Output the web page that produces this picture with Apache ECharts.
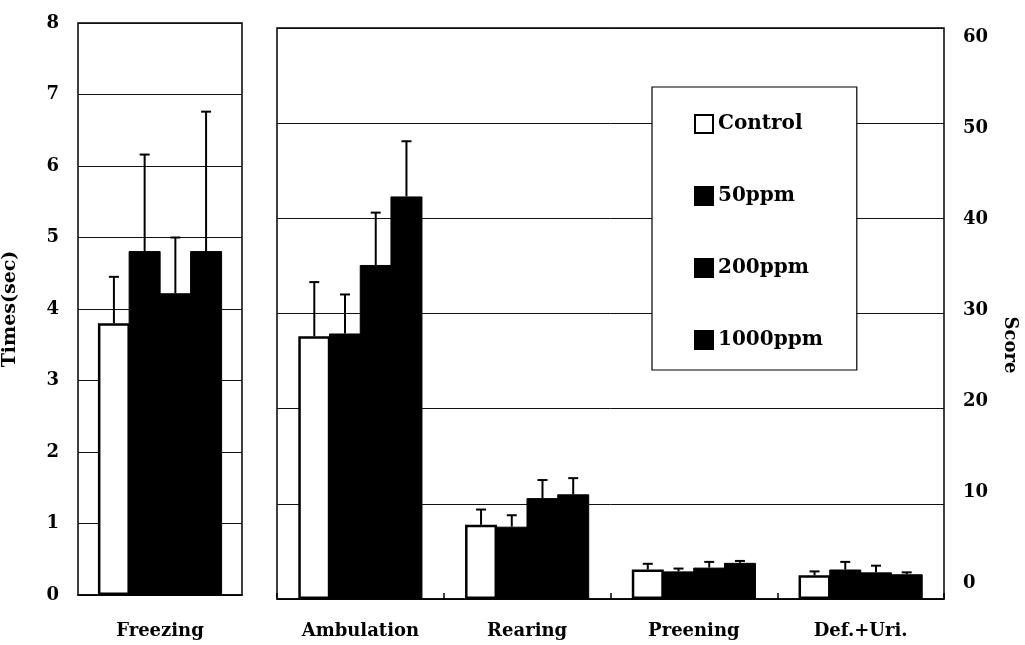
<!DOCTYPE html>
<html>
<head>
<meta charset="utf-8">
<script src="https://cdn.jsdelivr.net/npm/echarts@6/dist/echarts.min.js"></script>
<style>html,body{margin:0;padding:0;background:#fff}#c{width:1025px;height:645px}</style>
</head>
<body>
<div id="c"></div>
<script>
// ---- data ----
var groups = ['Control', '50ppm', '200ppm', '1000ppm'];
var leftCategories = ['Freezing'];
var rightCategories = ['Ambulation', 'Rearing', 'Preening', 'Def.+Uri.'];
var leftTicks = [0, 1, 2, 3, 4, 5, 6, 7, 8];
var rightTicks = [0, 10, 20, 30, 40, 50, 60];

// Freezing (sec): mean and SD per group
var freezingMean = [3.80, 4.81, 4.22, 4.81];
var freezingSD   = [0.65, 1.35, 0.78, 1.95];

// Scores: per group, values for Ambulation, Rearing, Preening, Def.+Uri.
var controlMean = [27.6, 7.8, 3.1, 2.5];
var controlSD   = [5.7, 1.6, 0.6, 0.4];
var ppm50Mean   = [27.9, 7.6, 2.9, 3.1];
var ppm50SD     = [4.1, 1.2, 0.3, 0.8];
var ppm200Mean  = [35.1, 10.6, 3.3, 2.8];
var ppm200SD    = [5.5, 1.9, 0.6, 0.7];
var ppm1000Mean = [42.3, 11.0, 3.8, 2.6];
var ppm1000SD   = [5.8, 1.7, 0.2, 0.2];

var scoreMeans = [controlMean, ppm50Mean, ppm200Mean, ppm1000Mean];
var scoreSDs   = [controlSD, ppm50SD, ppm200SD, ppm1000SD];

// ---- style ----
var FONT = 'DejaVu Serif';
var BW = 32;
var GAP = -0.04;
var STEP = BW * (1 + GAP);
var barStyles = [
  {color: '#ffffff', borderColor: '#000', borderWidth: 2.5},
  {color: '#000000', borderColor: '#000', borderWidth: 1},
  {color: '#000000', borderColor: '#000', borderWidth: 1},
  {color: '#000000', borderColor: '#000', borderWidth: 1}
];
var lbl = {fontFamily: FONT, fontWeight: 'bold', fontSize: 18, color: '#000'};

function errSeries(xi, yi, means, sds, k) {
  return {
    type: 'custom', xAxisIndex: xi, yAxisIndex: yi, z: 5, silent: true,
    data: means.map(function (m, i) { return [i, m, sds[i]]; }),
    renderItem: function (params, api) {
      var c = api.value(0);
      var lo = api.coord([c, api.value(1)]);
      var hi = api.coord([c, api.value(1) + api.value(2)]);
      var x = lo[0] + (k - 1.5) * STEP;
      var h = 5;
      return {type: 'group', children: [
        {type: 'line', shape: {x1: x, y1: lo[1], x2: x, y2: hi[1]}, style: {stroke: '#000', lineWidth: 2}},
        {type: 'line', shape: {x1: x - h, y1: hi[1], x2: x + h, y2: hi[1]}, style: {stroke: '#000', lineWidth: 2}}
      ]};
    }
  };
}

var series = [];
groups.forEach(function (g, k) {
  series.push({type: 'bar', name: g, xAxisIndex: 0, yAxisIndex: 0, barWidth: BW, barGap: (GAP * 100) + '%',
    itemStyle: barStyles[k], data: [freezingMean[k]], z: 3});
});
groups.forEach(function (g, k) {
  series.push({type: 'bar', name: g, xAxisIndex: 1, yAxisIndex: 1, barWidth: BW, barGap: (GAP * 100) + '%',
    itemStyle: barStyles[k], data: scoreMeans[k], z: 3});
});
groups.forEach(function (g, k) {
  series.push(errSeries(0, 0, [freezingMean[k]], [freezingSD[k]], k));
  series.push(errSeries(1, 1, scoreMeans[k], scoreSDs[k], k));
});

var option = {
  animation: false,
  backgroundColor: '#fff',
  grid: [
    {left: 76, top: 23, width: 166, height: 572, show: true, borderColor: '#000', borderWidth: 1.5},
    {left: 277, top: 28, width: 667, height: 571, show: true, borderColor: '#000', borderWidth: 1.5},
    {left: 277, top: 37, width: 667, height: 546, show: false}
  ],
  xAxis: [
    {type: 'category', gridIndex: 0, data: leftCategories,
      axisLine: {lineStyle: {color: '#000', width: 1.5}}, axisTick: {show: false},
      axisLabel: Object.assign({margin: 27}, lbl)},
    {type: 'category', gridIndex: 1, data: rightCategories,
      axisLine: {lineStyle: {color: '#000', width: 1.5}},
      axisTick: {show: true, inside: true, length: 6, lineStyle: {color: '#000', width: 1.5}},
      axisLabel: Object.assign({margin: 23, interval: 0}, lbl)},
    {type: 'value', gridIndex: 2, min: 0, max: 1, show: false}
  ],
  yAxis: [
    {type: 'value', gridIndex: 0, min: leftTicks[0], max: leftTicks[leftTicks.length - 1], interval: 1,
      axisLine: {show: false}, axisTick: {show: false},
      splitLine: {lineStyle: {color: '#111', width: 1}},
      axisLabel: Object.assign({margin: 19}, lbl),
      name: 'Times(sec)', nameLocation: 'middle', nameGap: 58, nameRotate: 90,
      nameTextStyle: {fontFamily: FONT, fontWeight: 'bold', fontSize: 19, color: '#000'}},
    {type: 'value', gridIndex: 1, position: 'right', min: rightTicks[0], max: rightTicks[rightTicks.length - 1], interval: 10,
      axisLine: {show: false}, axisTick: {show: false},
      splitLine: {lineStyle: {color: '#111', width: 1}},
      axisLabel: {show: false}},
    {type: 'value', gridIndex: 2, position: 'right', min: rightTicks[0], max: rightTicks[rightTicks.length - 1], interval: 10,
      axisLine: {show: false}, axisTick: {show: false}, splitLine: {show: false},
      axisLabel: Object.assign({margin: 19}, lbl)}
  ],
  legend: {
    data: groups.map(function (g) { return {name: g, icon: 'rect'}; }),
    orient: 'vertical', left: 652, top: 87,
    padding: [27, 34, 20, 42], itemGap: 52, itemWidth: 18, itemHeight: 18,
    backgroundColor: '#fff', borderColor: '#000', borderWidth: 1.2, borderRadius: 0,
    selectedMode: false,
    textStyle: {fontFamily: FONT, fontWeight: 'bold', fontSize: 20, color: '#000'}
  },
  graphic: [
    {type: 'text', x: 1010, y: 345, rotation: -Math.PI / 2,
      style: {text: 'Score', fontFamily: FONT, fontWeight: 'bold', fontSize: 18, fill: '#000', align: 'center', verticalAlign: 'middle'}}
  ],
  series: series
};

var chart = echarts.init(document.getElementById('c'), null, {renderer: 'canvas'});
chart.setOption(option);
</script>
</body>
</html>
